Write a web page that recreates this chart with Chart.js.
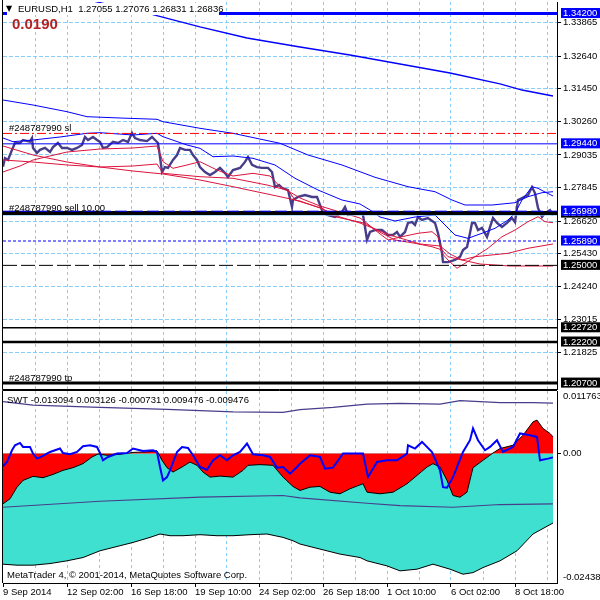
<!DOCTYPE html>
<html lang="en">
<head>
<meta charset="UTF-8">
<title>EURUSD,H1</title>
<script src="https://cdn.jsdelivr.net/npm/chart.js@4"></script>
<style>
    html, body { margin: 0; padding: 0; background: #ffffff; }
    #wrap { position: relative; width: 600px; height: 600px; overflow: hidden; }
    canvas { position: absolute; left: 0; }
    #priceChart { top: 0; }
    #swtChart { top: 390px; }
</style>
</head>
<body>
<div id="wrap">
    <canvas id="priceChart" width="600" height="390"></canvas>
    <canvas id="swtChart" width="600" height="210"></canvas>
</div>
<script>
// one H1 bar per pixel, bar 0 is the left edge of the chart
const LAST_BAR = 554;
const timeBars = [0, 64, 128, 192, 256, 320, 384, 448, 512];
const timeLabels = ['9 Sep 2014', '12 Sep 02:00', '16 Sep 18:00', '19 Sep 10:00', '24 Sep 02:00',
                    '26 Sep 18:00', '1 Oct 10:00', '6 Oct 02:00', '8 Oct 18:00'];
const gridBars = [32, 64, 96, 128, 160, 192, 224, 256, 288, 320, 352, 384, 416, 448, 480, 512, 544];

// price scale
const priceMin = 1.20484, priceMax = 1.34621;
const gridPrices = [1.33865, 1.32640, 1.31450, 1.30260, 1.29035, 1.27845, 1.26620, 1.25430, 1.24240, 1.23015, 1.21825];
const blackMarks = [1.26910, 1.25000, 1.22720, 1.22200, 1.20700];
const blueMarks = [1.34200, 1.29440, 1.26980, 1.25890];

// horizontal objects
const levelTop = 1.34200, levelSL = 1.29820, levelBlue = 1.29440, levelOrder = 1.26980;
const levelBlack = 1.26910, levelBid = 1.26836, levelDot = 1.25890, levelDash = 1.25000;
const levelLow1 = 1.22720, levelLow2 = 1.22200, levelTP = 1.20700;

// EURUSD H1 closes
const priceBars = [0, 2, 5, 9, 12, 17, 20, 27, 29, 30, 34, 37, 42, 47, 50, 55, 59, 64, 69, 74,
    79, 82, 85, 90, 94, 97, 100, 104, 110, 115, 120, 125, 129, 132, 137, 144, 149, 152, 155, 157,
    159, 162, 165, 170, 174, 177, 182, 187, 190, 194, 197, 202, 207, 212, 217, 222, 225, 230, 237, 242,
    245, 249, 254, 259, 265, 269, 272, 276, 279, 285, 289, 290, 295, 302, 309, 314, 317, 320, 325, 332,
    339, 342, 345, 352, 357, 360, 362, 364, 367, 372, 379, 385, 390, 394, 397, 402, 405, 409, 412, 415,
    419, 425, 432, 435, 439, 440, 445, 452, 457, 460, 464, 467, 469, 472, 475, 479, 484, 487, 490, 494,
    499, 504, 509, 512, 515, 519, 525, 529, 532, 535, 539, 542, 547, 550];
const priceClose = [1.2860, 1.2892, 1.2885, 1.2922, 1.2947, 1.2947, 1.2958, 1.2952, 1.2965, 1.2929,
    1.2911, 1.2922, 1.2929, 1.2914, 1.2932, 1.2947, 1.2929, 1.2929, 1.2922, 1.2929,
    1.2940, 1.2969, 1.2958, 1.2969, 1.2958, 1.2951, 1.2929, 1.2932, 1.2951, 1.2947,
    1.2958, 1.2951, 1.2984, 1.2965, 1.2958, 1.2954, 1.2969, 1.2958, 1.2947, 1.2896,
    1.2841, 1.2859, 1.2856, 1.2885, 1.2903, 1.2929, 1.2922, 1.2922, 1.2903, 1.2885,
    1.2859, 1.2841, 1.2830, 1.2841, 1.2856, 1.2837, 1.2823, 1.2848, 1.2856, 1.2878,
    1.2896, 1.2867, 1.2859, 1.2856, 1.2856, 1.2841, 1.2786, 1.2794, 1.2783, 1.2775,
    1.2713, 1.2739, 1.2750, 1.2757, 1.2750, 1.2750, 1.2721, 1.2691, 1.2684, 1.2677,
    1.2695, 1.2713, 1.2684, 1.2688, 1.2695, 1.2684, 1.2640, 1.2593, 1.2622, 1.2629,
    1.2629, 1.2611, 1.2611, 1.2622, 1.2604, 1.2622, 1.2655, 1.2658, 1.2648, 1.2677,
    1.2666, 1.2673, 1.2655, 1.2618, 1.2545, 1.2512, 1.2512, 1.2520, 1.2531, 1.2556,
    1.2567, 1.2618, 1.2655, 1.2655, 1.2629, 1.2637, 1.2604, 1.2640, 1.2673, 1.2655,
    1.2640, 1.2655, 1.2673, 1.2658, 1.2739, 1.2746, 1.2757, 1.2786, 1.2764, 1.2710,
    1.2677, 1.2691, 1.2702, 1.2684];

// slow blue moving average (top)
const maSlowBars = [0, 42, 86, 114, 147, 197, 244, 297, 347, 397, 447, 497, 519, 550];
const maSlow = [1.35242, 1.34986, 1.34694, 1.34449, 1.34183, 1.33708, 1.33306, 1.32977, 1.32685,
    1.32356, 1.32027, 1.31626, 1.31406, 1.31187];

// blue envelope
const envBars = [0, 30, 64, 84, 117, 154, 160, 197, 230, 277, 305, 339, 372, 405, 432, 449, 462, 489,
    512, 525, 539, 550];
const envUp = [1.31041, 1.30858, 1.30614, 1.30431, 1.30383, 1.30336, 1.30248, 1.30007, 1.29824,
    1.29459, 1.29032, 1.28667, 1.28217, 1.27874, 1.27691, 1.27388, 1.27205, 1.27205, 1.27289,
    1.27509, 1.27655, 1.27691];

// upper band
const bandBars = [0, 10, 30, 57, 84, 97, 130, 154, 160, 184, 197, 210, 230, 250, 272, 292, 315, 339,
    357, 367, 377, 392, 412, 432, 439, 452, 465, 479, 492, 505, 512, 519, 529, 535, 542, 550];
const bandUp = [1.29653, 1.29518, 1.29580, 1.29689, 1.29825, 1.29847, 1.29763, 1.29825, 1.29700,
    1.29397, 1.29276, 1.28970, 1.28995, 1.28911, 1.28667, 1.28181, 1.27753, 1.27388, 1.27242,
    1.27023, 1.26767, 1.26621, 1.26767, 1.26840, 1.26584, 1.26109, 1.25989, 1.26172, 1.26354,
    1.26657, 1.26902, 1.27388, 1.27874, 1.27815, 1.27680, 1.27534];

// red lines
const redFastBars = [0, 17, 30, 64, 97, 130, 154, 160, 170, 184, 197, 214, 230, 250, 267, 277, 287,
    297, 317, 337, 357, 362, 372, 385, 399, 415, 429, 435, 439, 445, 454, 462, 472, 485, 499, 512,
    525, 535, 542, 550];
const redFast = [1.28411, 1.28630, 1.28849, 1.29141, 1.29251, 1.29288, 1.29361, 1.28787, 1.28546,
    1.28667, 1.28787, 1.28484, 1.28265, 1.28363, 1.28265, 1.27874, 1.27680, 1.27461, 1.27169,
    1.26950, 1.26730, 1.26595, 1.26292, 1.25927, 1.26047, 1.26172, 1.26230, 1.26047, 1.25441,
    1.25196, 1.24893, 1.25075, 1.25317, 1.25624, 1.26047, 1.26292, 1.26595, 1.26778, 1.26595,
    1.26559];
const redMidBars = [0, 30, 64, 97, 130, 154, 160, 197, 230, 264, 277, 285, 292, 319, 332, 362, 379,
    392, 412, 429, 439, 445, 459, 472, 505, 525, 550];
const redMid = [1.28849, 1.28776, 1.28667, 1.28594, 1.28630, 1.28703, 1.28363, 1.28239, 1.28181,
    1.27936, 1.27815, 1.27753, 1.27388, 1.27085, 1.26778, 1.26537, 1.26172, 1.25927, 1.25806,
    1.25682, 1.25562, 1.25317, 1.25196, 1.25317, 1.25441, 1.25624, 1.25781];
const redSlowBars = [0, 30, 64, 97, 130, 160, 197, 230, 277, 297, 317, 337, 357, 387, 417, 437, 447,
    459, 477, 507, 550];
const redSlow = [1.29361, 1.29032, 1.28776, 1.28594, 1.28447, 1.28338, 1.28119, 1.27874, 1.27509,
    1.27351, 1.27096, 1.26767, 1.26547, 1.26109, 1.25781, 1.25708, 1.25416, 1.25196, 1.25050,
    1.24977, 1.24977];

// SWT indicator window
const swtMin = -0.024384, swtMax = 0.011763;
const swtUpperBars = [0, 7, 14, 20, 30, 40, 50, 60, 70, 80, 89, 95, 104, 117, 130, 144, 154, 159, 164,
    170, 179, 187, 194, 200, 207, 217, 230, 240, 245, 257, 270, 280, 290, 297, 307, 317, 327, 337,
    347, 360, 364, 377, 390, 404, 414, 424, 430, 437, 444, 450, 457, 464, 470, 480, 490, 497, 510,
    520, 530, 534, 540, 547, 550];
const swtUpper = [-0.00948, -0.00854, -0.00634, -0.00507, -0.00431, -0.00456, -0.00394, -0.00318,
    -0.00267, -0.00191, -0.00066, -0.0001, -0.00034, -0.00015, 0.0002, 0.0003, 0.0005, -0.00129,
    -0.00267, -0.0035, -0.00255, -0.00161, -0.00223, -0.0035, -0.00445, -0.00426, -0.00445,
    -0.00318, -0.00223, -0.0021, -0.00223, -0.00445, -0.00621, -0.00696, -0.00634, -0.00621,
    -0.00729, -0.00759, -0.00664, -0.0057, -0.00729, -0.00759, -0.00729, -0.0057, -0.00413,
    -0.00255, -0.00191, -0.00255, -0.00507, -0.00791, -0.00823, -0.00729, -0.00267, -0.00129,
    0.0001, 0.00093, 0.00155, 0.00344, 0.00596, 0.00628, 0.00471, 0.00377, 0.00313];
const swtLowerBars = [0, 14, 30, 47, 64, 80, 97, 114, 130, 147, 157, 167, 180, 197, 214, 230, 247, 264,
    280, 290, 297, 317, 337, 357, 364, 384, 397, 414, 430, 447, 460, 470, 480, 497, 514, 530, 550];
const swtLower = [-0.02084, -0.02103, -0.02103, -0.02072, -0.02021, -0.01959, -0.01832, -0.01751,
    -0.01675, -0.0158, -0.01516, -0.01548, -0.01548, -0.01529, -0.01548, -0.01548, -0.01529,
    -0.01516, -0.0158, -0.01643, -0.01705, -0.018, -0.01894, -0.01959, -0.02021, -0.02116, -0.0221,
    -0.02178, -0.02084, -0.02178, -0.02273, -0.02243, -0.02148, -0.02021, -0.01832, -0.01516, -0.01309];
const swtSignalBars = [0, 4, 9, 12, 17, 20, 27, 30, 34, 39, 47, 52, 57, 60, 67, 74, 80, 87, 94, 97,
    100, 105, 114, 124, 130, 140, 150, 154, 157, 160, 164, 167, 174, 179, 185, 190, 197, 204, 210, 217,
    224, 230, 237, 244, 250, 260, 267, 274, 280, 287, 294, 297, 307, 317, 322, 330, 340, 360, 365, 374,
    384, 394, 404, 405, 412, 419, 429, 437, 440, 444, 450, 460, 467, 470, 475, 482, 487, 494, 500, 510,
    517, 527, 534, 537, 545, 550];
const swtSignal = [-0.00242, -0.00161, 0.00061, 0.00155, 0.00199, 0.00123, 0.00123, -0.00002, -0.00097, -0.00053,
    0.00028, 0.00061, 0.00093, 0.00009, -0.00015, 0.00028, 0.00136, 0.00155, 0.00123, 0.00009,
    -0.00129, -0.00066, -0.00002, 0.00009, 0.00093, 0.00047, 0.00061, 0.00028, -0.00255, -0.00507,
    -0.00445, -0.00318, 0.00028, 0.00123, 0.00104, -0.00034, -0.00255, -0.00305, -0.00129, -0.00034,
    -0.00129, -0.00034, 0.00028, 0.00187, -0.00015, -0.00034, -0.00066, -0.00267, -0.00255, -0.0038,
    -0.00255, -0.00191, -0.00034, -0.00066, -0.00286, -0.00267, -0.00002, -0.00002, -0.00445, -0.00161,
    -0.00129, -0.00129, -0.00002, 0.00155, 0.00093, 0.00218, 0.00028, -0.00318, -0.00634, -0.00645,
    -0.00445, 0.00028, 0.0025, 0.00471, 0.0025, 0.00061, 0.00123, 0.0025, 0.00028, 0.00123,
    0.00377, 0.00344, 0.00312, -0.00129, -0.00097, -0.00073];
const levelHighBars = [0, 30, 97, 164, 230, 280, 297, 330, 364, 397, 437, 457, 497, 530, 550];
const levelHigh = [0.00975, 0.00912, 0.00869, 0.00831, 0.00785, 0.00774, 0.00825, 0.00869, 0.00931,
    0.00944, 0.00931, 0.00994, 0.00956, 0.00956, 0.00948];
const levelLowBars = [0, 97, 197, 280, 297, 364, 397, 450, 497, 550];
const levelLow = [-0.01012, -0.00899, -0.00823, -0.00791, -0.00835, -0.00937, -0.0098, -0.01012,
    -0.00961, -0.00948];

const FONT = "'Liberation Sans', Arial, sans-serif";
const GRID = '#87CEFA';
const NONE = 'rgba(0,0,0,0)';
Chart.defaults.font.family = FONT;
Chart.defaults.font.size = 9.5;
Chart.defaults.color = '#000000';

function pts(xs, ys) {
    return xs.map((x, i) => ({ x: x, y: ys[i] }));
}
function line(xs, ys, color, width, order) {
    return { data: pts(xs, ys), borderColor: color, borderWidth: width, pointRadius: 0,
             tension: 0, fill: false, order: order };
}
function hline(price, color, width, dash, order) {
    return { data: [{ x: 0, y: price }, { x: LAST_BAR, y: price }], borderColor: color,
             borderWidth: width, borderDash: dash, pointRadius: 0, fill: false, order: order };
}
function inList(list, v) {
    return list.some(p => Math.abs(p - v) < 1e-7);
}
const isMark = v => inList(blackMarks, v) || inList(blueMarks, v);

const priceText = {
    id: 'priceText',
    afterDraw(chart) {
        const { ctx, chartArea: a, scales: { y } } = chart;
        ctx.save();
        ctx.strokeStyle = '#000';
        ctx.lineWidth = 1;
        ctx.beginPath();
        ctx.moveTo(a.left - 0.5, 0);
        ctx.lineTo(a.left - 0.5, a.bottom + 0.5);
        ctx.lineTo(a.right, a.bottom + 0.5);
        ctx.stroke();

        ctx.font = '9.5px ' + FONT;
        ctx.fillStyle = '#000';
        ctx.fillText('#248787990 sl', a.left + 6, y.getPixelForValue(levelSL) - 2);
        ctx.fillText('#248787990 sell 10.00', a.left + 6, y.getPixelForValue(levelOrder));
        ctx.fillText('#248787990 tp', a.left + 6, y.getPixelForValue(levelTP) - 2);

        // symbol header
        ctx.fillStyle = '#fff';
        ctx.fillRect(a.left + 4, 3, 212, 12);
        ctx.fillStyle = '#000';
        ctx.font = '8px DejaVu Sans';
        ctx.fillText('\u25BC', a.left + 3, 11);
        ctx.font = '9.5px ' + FONT;
        ctx.fillText('EURUSD,H1  1.27055 1.27076 1.26831 1.26836', a.left + 15, 12);
        ctx.font = "bold 15px 'Liberation Sans', Arial, sans-serif";
        ctx.fillStyle = '#B22222';
        ctx.fillText('0.0190', a.left + 9, 29);
        ctx.restore();
    }
};

const swtText = {
    id: 'swtText',
    afterDraw(chart) {
        const { ctx, chartArea: a } = chart;
        ctx.save();
        ctx.strokeStyle = '#000';
        ctx.lineWidth = 1;
        ctx.beginPath();
        ctx.moveTo(a.left - 0.5, a.bottom);
        ctx.lineTo(a.left - 0.5, a.top - 0.5);
        ctx.lineTo(a.right, a.top - 0.5);
        ctx.stroke();
        ctx.font = '9.5px ' + FONT;
        ctx.fillStyle = '#000';
        ctx.fillText('SWT -0.013094 0.003126 -0.000731 0.009476 -0.009476', a.left + 4, a.top + 12);
        ctx.fillText('MetaTrader 4, \u00A9 2001-2014, MetaQuotes Software Corp.', a.left + 4, a.bottom - 5);
        ctx.restore();
    }
};

new Chart(document.getElementById('priceChart'), {
    type: 'line',
    data: {
        datasets: [
            hline(levelTop, '#0000FF', 3, [], 5),
            hline(levelSL, '#FF0000', 1, [9, 3, 2, 3], 5),
            hline(levelBlue, '#0000FF', 1, [], 5),
            hline(levelOrder, '#0000FF', 1, [12, 4], 4),
            hline(levelBlack, '#000000', 4, [], 6),
            hline(levelBid, GRID, 1, [], 7),
            hline(levelDot, '#0000FF', 1, [3, 2], 5),
            hline(levelDash, '#000000', 1, [14, 4], 5),
            hline(levelLow1, '#000000', 1.5, [], 5),
            hline(levelLow2, '#000000', 2.5, [], 5),
            hline(levelTP, '#000000', 3, [], 5),
            line(maSlowBars, maSlow, '#0000FF', 1.3, 10),
            line(envBars, envUp, '#0000FF', 1, 10),
            line(bandBars, bandUp, '#0000FF', 1, 10),
            line(redFastBars, redFast, '#DC143C', 1, 10),
            line(redMidBars, redMid, '#DC143C', 1, 10),
            line(redSlowBars, redSlow, '#DC143C', 1, 10),
            line(priceBars, priceClose, '#483D8B', 2.4, 20)
        ]
    },
    options: {
        responsive: false,
        animation: false,
        layout: { padding: { left: 3, top: 2, right: 0, bottom: 1 } },
        plugins: { legend: { display: false }, tooltip: { enabled: false } },
        scales: {
            x: {
                type: 'linear', min: 0, max: LAST_BAR,
                afterBuildTicks: s => { s.ticks = gridBars.map(v => ({ value: v })); },
                afterFit: s => { s.height = 0; s.paddingLeft = 0; s.paddingRight = 0; },
                ticks: { display: false },
                grid: { color: GRID, drawTicks: false },
                border: { display: false, dash: [3, 3] }
            },
            y: {
                type: 'linear', position: 'right', min: priceMin, max: priceMax, bounds: 'data',
                afterBuildTicks: s => {
                    s.ticks = gridPrices.concat(blackMarks, blueMarks).map(v => ({ value: v }));
                },
                afterFit: s => { s.width = 43; s.paddingTop = 0; s.paddingBottom = 0; },
                ticks: {
                    autoSkip: false,
                    padding: 2,
                    font: { size: 9.5, lineHeight: 0.95 },
                    callback: v => v.toFixed(5),
                    color: c => (c.tick && isMark(c.tick.value)) ? '#FFFFFF' : '#000000',
                    showLabelBackdrop: c => !!(c.tick && isMark(c.tick.value)),
                    backdropColor: c => (c.tick && inList(blueMarks, c.tick.value)) ? '#0000FF' : '#000000',
                    backdropPadding: { left: 2, right: 4, top: 1, bottom: 0 }
                },
                grid: {
                    color: c => (c.tick && isMark(c.tick.value)) ? NONE : GRID,
                    tickColor: c => (c.tick && isMark(c.tick.value)) ? NONE : '#000000',
                    tickLength: 4
                },
                border: { display: true, color: '#000000', width: 1, dash: [4, 2] }
            }
        }
    },
    plugins: [priceText]
});

new Chart(document.getElementById('swtChart'), {
    type: 'line',
    data: {
        datasets: [
            { data: pts(swtLowerBars, swtLower), borderColor: '#000000', borderWidth: 1,
              backgroundColor: '#40E0D0', fill: 'origin', pointRadius: 0, tension: 0, order: 40 },
            { data: pts(swtUpperBars, swtUpper), borderColor: '#000000', borderWidth: 1,
              backgroundColor: '#FF0000', fill: 'origin', pointRadius: 0, tension: 0, order: 30 },
            line(levelHighBars, levelHigh, '#483D8B', 1.2, 20),
            line(levelLowBars, levelLow, '#483D8B', 1.2, 20),
            line(swtSignalBars, swtSignal, '#0000FF', 2, 10)
        ]
    },
    options: {
        responsive: false,
        animation: false,
        layout: { padding: { left: 3, top: 1, right: 0, bottom: 0 } },
        plugins: { legend: { display: false }, tooltip: { enabled: false } },
        scales: {
            x: {
                type: 'linear', min: 0, max: LAST_BAR,
                afterBuildTicks: s => { s.ticks = [0].concat(gridBars).map(v => ({ value: v })); },
                afterFit: s => { s.height = 17; s.paddingLeft = 0; s.paddingRight = 0; },
                ticks: {
                    autoSkip: false, maxRotation: 0, align: 'start', padding: 0,
                    callback: v => {
                        const i = timeBars.indexOf(v);
                        return i < 0 ? '' : timeLabels[i];
                    }
                },
                grid: {
                    color: c => (c.tick && c.tick.value === 0) ? NONE : GRID,
                    tickColor: c => (c.tick && timeBars.includes(c.tick.value)) ? '#000000' : NONE,
                    tickLength: 4
                },
                border: { display: true, color: '#000000', width: 1, dash: [3, 3] }
            },
            y: {
                type: 'linear', position: 'right', min: swtMin, max: swtMax, bounds: 'data',
                afterBuildTicks: s => { s.ticks = [swtMin, 0, swtMax].map(v => ({ value: v })); },
                afterFit: s => { s.width = 43; s.paddingTop = 0; s.paddingBottom = 0; },
                ticks: {
                    autoSkip: false, padding: 2,
                    callback: v => {
                        if (v === swtMax) return ['', '0.011763'];
                        if (v === swtMin) return ['-0.024384', ''];
                        return '0.00';
                    }
                },
                grid: {
                    drawOnChartArea: false,
                    tickColor: c => (c.tick && c.tick.value === 0) ? '#000000' : NONE,
                    tickLength: 4
                },
                border: { display: true, color: '#000000', width: 1 }
            }
        }
    },
    plugins: [swtText]
});
</script>
</body>
</html>
